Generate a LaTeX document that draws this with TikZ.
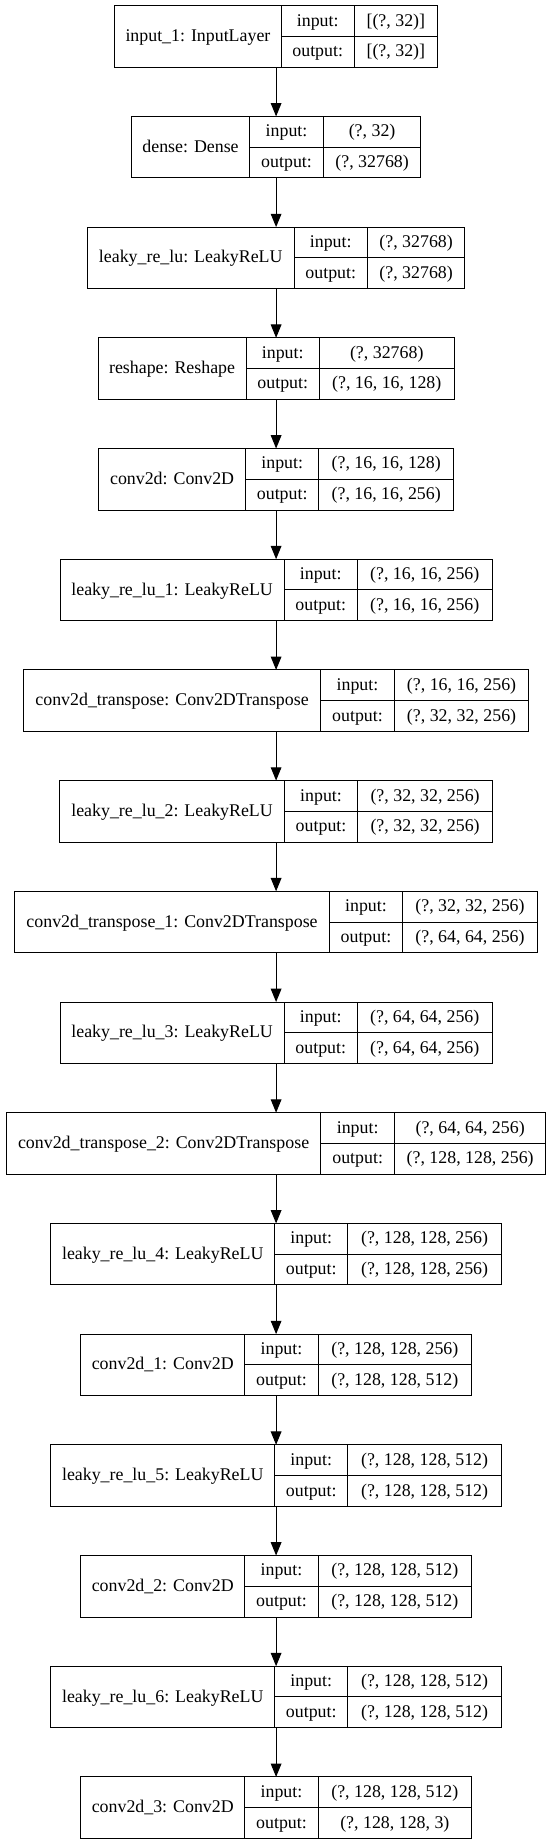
\documentclass[tikz,border=0pt]{standalone}
\usepackage{fontspec}
\setmainfont{Liberation Serif}
\usepackage{tikz}
\usetikzlibrary{arrows.meta,positioning}
\newdimen\pxdim
\pxdim=0.75pt
\tikzstyle{layerbox}=[
  draw=none,
  inner sep=0pt,
  outer sep=0pt,
  minimum height=61.5\pxdim,
  rectangle,
]
\tikzstyle{cell}=[
  draw=black,
  font={\fontsize{13.4}{16}\selectfont},
  inner sep=0pt,
  outer sep=0pt,
  line width=\pxdim,
  rectangle,
  text centered,
  text height=10pt,
  text depth=2.4pt,
  anchor=north west,
]
\tikzstyle{namecell}=[cell, minimum height=61.5\pxdim]
\tikzstyle{iocell}=[cell, minimum height=30.75\pxdim]
\tikzstyle{arrow}=[
  color=black,
  draw=black,
  line width=\pxdim,
]
\tikzset{
  >={Triangle[length=10pt,width=8pt]},
}
% #1 name, #2 row, #3 box width, #4 name cell width, #5 layer, #6 input, #7 output
\newcommand{\layer}[7]{%
  \node (#1) [layerbox, minimum width={#3*\pxdim}, anchor=north] at (276.1,{5.7+110.7*#2}) {};
  \node (#1-name) [namecell, minimum width={#4*\pxdim}] at (#1.north west) {#5};
  \node (#1-inl) [iocell, minimum width={73.4*\pxdim}] at (#1-name.north east) {input:};
  \node (#1-outl) [iocell, minimum width={73.4*\pxdim}] at (#1-inl.south west) {output:};
  \node (#1-inv) [iocell, minimum width={(#3-#4-73.4)*\pxdim}] at (#1-inl.north east) {#6};
  \node (#1-outv) [iocell, minimum width={(#3-#4-73.4)*\pxdim}] at (#1-outl.north east) {#7};
}
\begin{document}
\begin{tikzpicture}[x=\pxdim, y=-\pxdim]
  \useasboundingbox (0,0) rectangle (552,1844);
  \layer{input1}{0}{322.4}{166.1}{input\_1: InputLayer}{[(?, 32)]}{[(?, 32)]}
  \layer{dense}{1}{289.7}{118.6}{dense: Dense}{(?, 32)}{(?, 32768)}
  \layer{leaky}{2}{377.3}{206.6}{leaky\_re\_lu: LeakyReLU}{(?, 32768)}{(?, 32768)}
  \layer{reshape}{3}{355.9}{147.9}{reshape: Reshape}{(?, 32768)}{(?, 16, 16, 128)}
  \layer{conv}{4}{354.8}{146.8}{conv2d: Conv2D}{(?, 16, 16, 128)}{(?, 16, 16, 256)}
  \layer{leaky1}{5}{431.9}{223.9}{leaky\_re\_lu\_1: LeakyReLU}{(?, 16, 16, 256)}{(?, 16, 16, 256)}
  \layer{convt}{6}{505.6}{297.5}{conv2d\_transpose: Conv2DTranspose}{(?, 16, 16, 256)}{(?, 32, 32, 256)}
  \layer{leaky2}{7}{432.7}{224.6}{leaky\_re\_lu\_2: LeakyReLU}{(?, 32, 32, 256)}{(?, 32, 32, 256)}
  \layer{convt1}{8}{522.5}{314.4}{conv2d\_transpose\_1: Conv2DTranspose}{(?, 32, 32, 256)}{(?, 64, 64, 256)}
  \layer{leaky3}{9}{431.9}{223.9}{leaky\_re\_lu\_3: LeakyReLU}{(?, 64, 64, 256)}{(?, 64, 64, 256)}
  \layer{convt2}{10}{539.7}{314.7}{conv2d\_transpose\_2: Conv2DTranspose}{(?, 64, 64, 256)}{(?, 128, 128, 256)}
  \layer{leaky4}{11}{450.3}{223.6}{leaky\_re\_lu\_4: LeakyReLU}{(?, 128, 128, 256)}{(?, 128, 128, 256)}
  \layer{conv1}{12}{390.8}{164.1}{conv2d\_1: Conv2D}{(?, 128, 128, 256)}{(?, 128, 128, 512)}
  \layer{leaky5}{13}{450.3}{223.6}{leaky\_re\_lu\_5: LeakyReLU}{(?, 128, 128, 512)}{(?, 128, 128, 512)}
  \layer{conv2}{14}{390.8}{164.1}{conv2d\_2: Conv2D}{(?, 128, 128, 512)}{(?, 128, 128, 512)}
  \layer{leaky6}{15}{450.3}{223.6}{leaky\_re\_lu\_6: LeakyReLU}{(?, 128, 128, 512)}{(?, 128, 128, 512)}
  \layer{conv3}{16}{390.8}{164.1}{conv2d\_3: Conv2D}{(?, 128, 128, 512)}{(?, 128, 128, 3)}
  \foreach \a/\b in {input1/dense, dense/leaky, leaky/reshape, reshape/conv, conv/leaky1,
      leaky1/convt, convt/leaky2, leaky2/convt1, convt1/leaky3, leaky3/convt2, convt2/leaky4,
      leaky4/conv1, conv1/leaky5, leaky5/conv2, conv2/leaky6, leaky6/conv3}
    \draw [->, arrow] (\a) -- (\b);
\end{tikzpicture}
\end{document}
